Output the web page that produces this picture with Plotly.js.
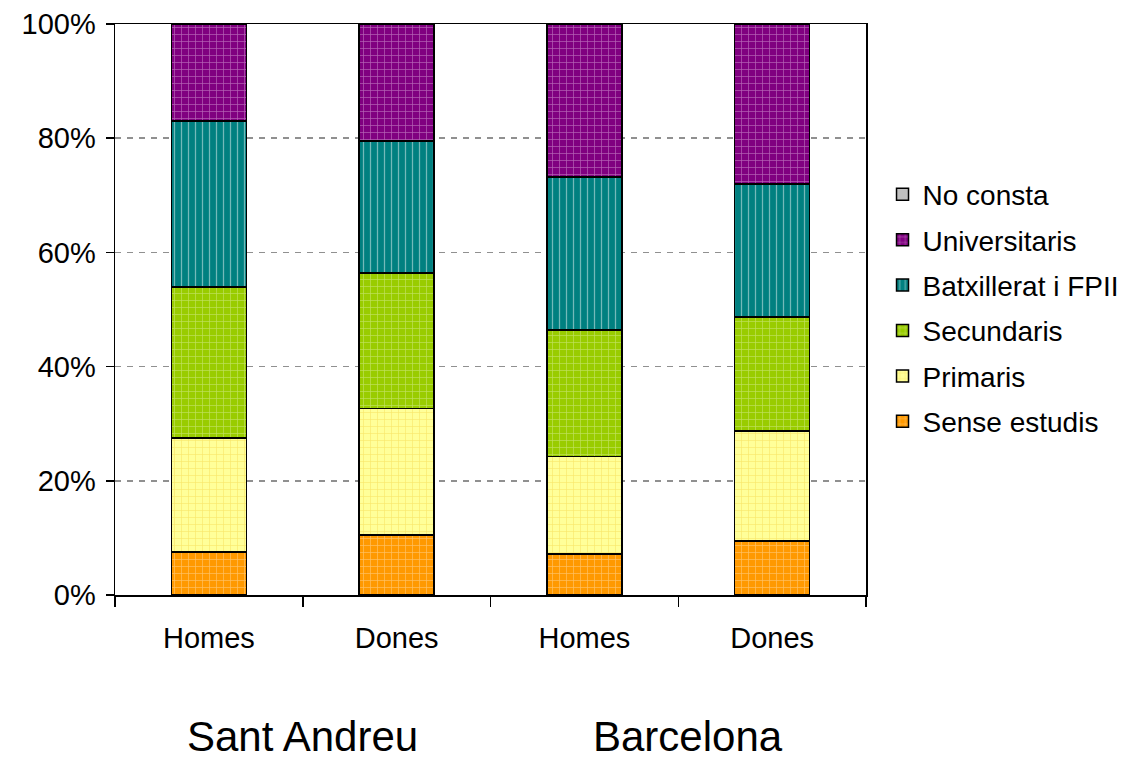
<!DOCTYPE html>
<html>
<head>
<meta charset="utf-8">
<script src="https://cdn.plot.ly/plotly-3.0.1.min.js"></script>
<style>html,body{margin:0;padding:0;background:#fff;}#chart{width:1137px;height:759px;}</style>
</head>
<body>
<div id="chart"></div>
<script>
// Data
const categories = ["Homes", "Dones", "Homes", "Dones"];
const groups = ["Sant Andreu", "Barcelona"];
const seriesNames = ["Sense estudis", "Primaris", "Secundaris", "Batxillerat i FPII", "Universitaris", "No consta"];
const senseEstudis = [7.5, 10.5, 7.2, 9.5];
const primaris = [20.0, 22.2, 17.1, 19.2];
const secundaris = [26.4, 23.7, 22.1, 20.0];
const batxillerat = [29.1, 23.1, 26.8, 23.3];
const universitaris = [17.0, 20.5, 26.8, 28.0];
const noConsta = [0, 0, 0, 0];
const yTicks = [0, 20, 40, 60, 80, 100];
const yTickText = ["0%", "20%", "40%", "60%", "80%", "100%"];

const values = [senseEstudis, primaris, secundaris, batxillerat, universitaris, noConsta];
const colors = ["#FF9900", "#FFFF99", "#99CC00", "#008080", "#800080", "#C0C0C0"];
const fgColors = ["rgba(255,240,215,0.95)", "#F2D040", "rgba(235,250,200,0.95)", "rgba(255,255,255,0.9)", "rgba(245,215,245,0.95)", "#C0C0C0"];
const shapes = ["+", "+", "+", "|", "+", ""];

const xs = categories.map((c, i) => i);
const font = "Liberation Sans, Arial, sans-serif";
const fs = 29;

const traces = seriesNames.map((name, k) => ({
  type: "bar",
  name: name,
  x: xs,
  y: values[k],
  width: 0.4,
  legendgroup: "g" + k,
  legendrank: seriesNames.length - k,
  marker: {
    color: colors[k],
    line: {color: "#000", width: 1.5},
    pattern: {shape: shapes[k], size: 7, solidity: 0.18, fgcolor: fgColors[k], bgcolor: colors[k], fillmode: "overlay"}
  },
  hoverinfo: "y+name"
}));

const layout = {
  width: 1137, height: 759,
  margin: {l: 115, r: 271, t: 24, b: 164, autoexpand: false},
  barmode: "stack",
  paper_bgcolor: "#fff", plot_bgcolor: "#fff",
  font: {family: font, size: fs, color: "#000"},
  showlegend: true,
  legend: {
    x: 1.022, xanchor: "left", y: 0.745, yanchor: "top",
    traceorder: "grouped", tracegroupgap: 6,
    font: {family: font, size: 28, color: "#000"},
    bgcolor: "rgba(0,0,0,0)"
  },
  xaxis: {
    range: [-0.5, 3.5],
    tickmode: "array", tickvals: xs, ticktext: categories,
    ticks: "", showgrid: false, zeroline: false,
    showline: true, linecolor: "#000", linewidth: 1.5, mirror: true,
    ticklabelstandoff: 17,
    tickfont: {family: font, size: fs, color: "#000"},
    minor: {tickmode: "linear", tick0: -0.5, dtick: 1, ticks: "outside", ticklen: 10, tickwidth: 1.5, tickcolor: "#000", showgrid: false}
  },
  yaxis: {
    range: [0, 100],
    tickmode: "array", tickvals: yTicks, ticktext: yTickText,
    ticks: "outside", ticklen: 8, tickwidth: 1.5, tickcolor: "#000",
    showgrid: true, gridcolor: "#909090", gridwidth: 1.5, griddash: "6px,6px",
    zeroline: false,
    showline: true, linecolor: "#000", linewidth: 1.5, mirror: true,
    ticklabelstandoff: 4,
    tickfont: {family: font, size: fs, color: "#000"}
  },
  annotations: [
    {text: groups[0], x: 0.5, y: -0.247, xref: "x", yref: "paper", showarrow: false, font: {family: font, size: 42, color: "#000"}, xanchor: "center", yanchor: "middle"},
    {text: groups[1], x: 2.55, y: -0.247, xref: "x", yref: "paper", showarrow: false, font: {family: font, size: 42, color: "#000"}, xanchor: "center", yanchor: "middle"}
  ]
};

Plotly.newPlot("chart", traces, layout, {displayModeBar: false, staticPlot: true});
</script>
</body>
</html>
